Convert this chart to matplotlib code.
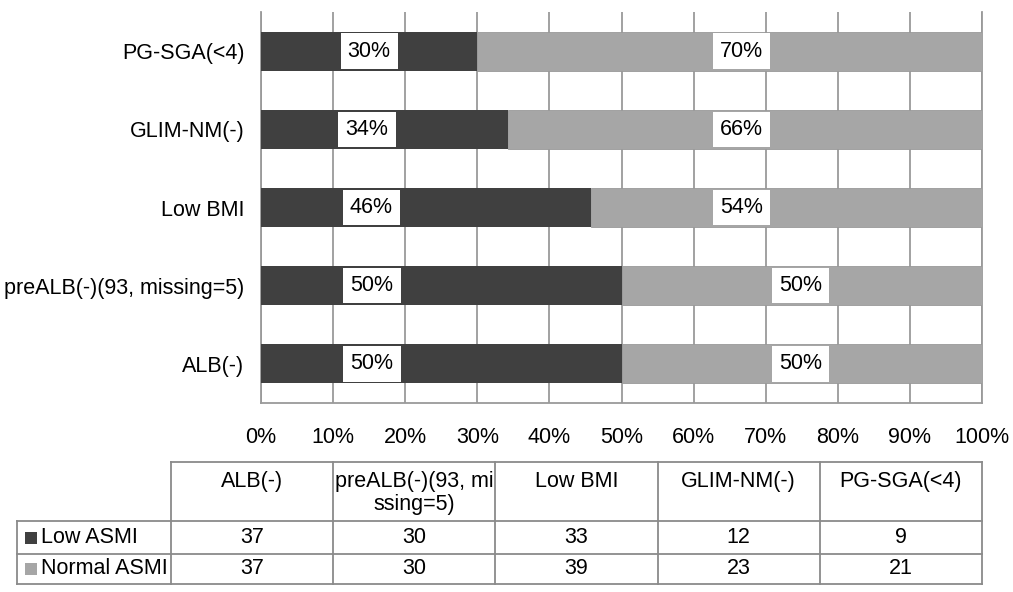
import matplotlib
matplotlib.use("Agg")
import matplotlib.pyplot as plt
from matplotlib.patches import Rectangle
import numpy as np

plt.rcParams["font.family"] = ["Liberation Sans", "DejaVu Sans"]

# data (bottom to top in chart, left to right in table)
categories = ["ALB(-)", "preALB(-)(93, missing=5)", "Low BMI", "GLIM-NM(-)", "PG-SGA(<4)"]
table_headers = ["ALB(-)", "preALB(-)(93, mi\nssing=5)", "Low BMI", "GLIM-NM(-)", "PG-SGA(<4)"]
series_names = ["Low ASMI", "Normal ASMI"]
low_asmi = [37, 30, 33, 12, 9]
normal_asmi = [37, 30, 39, 23, 21]
low_pct_labels = ["50%", "50%", "46%", "34%", "30%"]
normal_pct_labels = ["50%", "50%", "54%", "66%", "70%"]

DARK = "#404040"
LIGHT = "#a6a6a6"
GRID = "#9a9a9a"
FS = 15.5

low = np.array(low_asmi, dtype=float)
normal = np.array(normal_asmi, dtype=float)
total = low + normal
low_share = low / total
normal_share = normal / total

fig = plt.figure(figsize=(10.13, 5.92), dpi=100)
W, H = 1013, 592
ax = fig.add_axes([261 / W, 1 - 403 / H, (982 - 261) / W, (403 - 12) / H])

y = np.arange(len(categories))
ax.barh(y, low_share, height=0.5, color=DARK, zorder=3)
ax.barh(y, normal_share, left=low_share, height=0.5, color=LIGHT,
        edgecolor="#999999", linewidth=0.6, zorder=3)

# where the source chart placed its data labels (fraction of axis)
low_label_x = [0.154, 0.154, 0.153, 0.147, 0.150]
normal_label_x = [0.748, 0.748, 0.666, 0.666, 0.666]
box = dict(boxstyle="square,pad=0.33", facecolor="white", edgecolor="none")
for i in range(len(categories)):
    ax.text(low_label_x[i], y[i], low_pct_labels[i], ha="center", va="center",
            fontsize=FS, bbox=box, zorder=4)
    ax.text(normal_label_x[i], y[i], normal_pct_labels[i], ha="center", va="center",
            fontsize=FS, bbox=box, zorder=4)

ax.set_xlim(0, 1)
ax.set_ylim(-0.5, len(categories) - 0.5)
ax.set_xticks(np.linspace(0, 1, 11))
ax.set_xticklabels([f"{int(round(v * 100))}%" for v in np.linspace(0, 1, 11)])
ax.set_yticks(y)
ax.set_yticklabels(categories)
ax.tick_params(axis="both", length=0, labelsize=FS)
ax.tick_params(axis="x", pad=17)
ax.tick_params(axis="y", pad=12)
ax.grid(axis="x", color=GRID, linewidth=1.3, zorder=0)
ax.set_axisbelow(True)
for side in ["left", "bottom", "right"]:
    ax.spines[side].set_color(GRID)
    ax.spines[side].set_linewidth(1.3)
ax.spines["top"].set_visible(False)

# data table below the chart, drawn in pixel coordinates
tax = fig.add_axes([0, 0, 1, 1])
tax.set_xlim(0, W)
tax.set_ylim(H, 0)
tax.axis("off")

col_edges = np.linspace(171, 982, len(table_headers) + 1)
head_top, row1_top, row2_top, table_bottom = 462, 521, 554, 584
label_left = 17
lc = "#8a8a8a"
lw = 1.3

tax.plot([col_edges[0], col_edges[-1]], [head_top, head_top], color=lc, lw=lw)
for yy in [row1_top, row2_top, table_bottom]:
    tax.plot([label_left, col_edges[-1]], [yy, yy], color=lc, lw=lw)
for xx in col_edges:
    tax.plot([xx, xx], [head_top, table_bottom], color=lc, lw=lw)
tax.plot([label_left, label_left], [row1_top, table_bottom], color=lc, lw=lw)

for j, name in enumerate(table_headers):
    cx = (col_edges[j] + col_edges[j + 1]) / 2
    tax.text(cx, head_top + 9, name, ha="center", va="top", fontsize=FS,
             linespacing=1.1)

row_tops = [row1_top, row2_top]
row_bottoms = [row2_top, table_bottom]
for r, (name, vals, color) in enumerate(zip(series_names, [low_asmi, normal_asmi],
                                            [DARK, LIGHT])):
    cy = (row_tops[r] + row_bottoms[r]) / 2
    tax.add_patch(Rectangle((25, cy - 6), 12, 12, facecolor=color, edgecolor="none"))
    tax.text(41, cy, name, ha="left", va="center", fontsize=FS)
    for j, v in enumerate(vals):
        cx = (col_edges[j] + col_edges[j + 1]) / 2
        tax.text(cx, cy, str(v), ha="center", va="center", fontsize=FS)

fig.savefig("out.png", dpi=100)
